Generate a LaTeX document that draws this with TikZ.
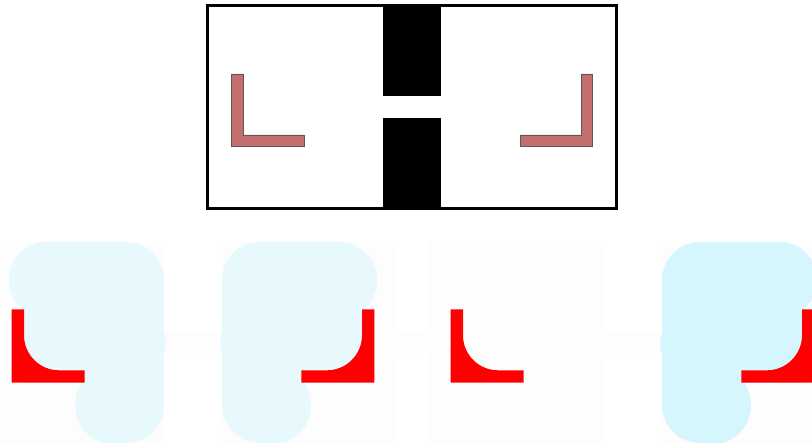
\documentclass[tikz,border=0pt]{standalone}
\definecolor{wallred}{RGB}{196,110,110}
\definecolor{blobcyan}{RGB}{232,249,254}
\definecolor{blobcyandark}{RGB}{214,246,254}
\definecolor{panelgray}{RGB}{253,253,253}
\newcommand{\cornerblob}[1]{%
  \fill[#1] (46.7,280) circle[radius=38];
  \fill[#1] (126,280) circle[radius=38];
  \fill[#1] (128,343) circle[radius=37.7];
  \fill[#1] (115,405) circle[radius=40];
  \fill[#1] (126,405) circle[radius=38];
  \fill[#1] (46.7,241.7) rectangle (126,318);
  \fill[#1] (24,280) rectangle (164,383);
  \fill[#1] (115,300) rectangle (164,405);
  \fill[#1] (115,405) rectangle (126,443);
}
\newcommand{\cornerhit}{%
  \fill[red] (11.7,309.3) -- (24,309.3) -- (24,335.3)
    .. controls (24,354.6) and (39.7,370.3) .. (59,370.3)
    -- (84.7,370.3) -- (84.7,382.7) -- (11.7,382.7) -- cycle;
}
\begin{document}
\begin{tikzpicture}[x=1pt,y=-1pt,
  cornerL/.style={fill=wallred, draw=black!65, line width=0.6pt},
  faint/.style={fill=panelgray}]
\useasboundingbox (0,0) rectangle (812,443);
% room seen from above
\draw[line width=3pt] (207.5,5.5) rectangle (616.5,208.5);
\fill (383.3,5.5) rectangle (441.3,96.3);
\fill (383.3,118.3) rectangle (441.3,208.5);
\draw[cornerL] (231.7,74) -- (243.3,74) -- (243.3,135) -- (304.3,135) -- (304.3,146.7) -- (231.7,146.7) -- cycle;
\draw[cornerL] (592.7,74) -- (581,74) -- (581,135) -- (520.7,135) -- (520.7,146.7) -- (592.7,146.7) -- cycle;
% panels below
\fill[faint] (0,331.7) rectangle (812,354);
\fill[faint] (0,241.7) rectangle (164,443);
\fill[faint] (222,241.7) rectangle (395,443);
\fill[faint] (428,241.7) rectangle (603,443);
\fill[faint] (662,241.7) rectangle (812,443);
\begin{scope}
  \cornerblob{blobcyan}
  \cornerhit
\end{scope}
\begin{scope}[xshift=386pt, xscale=-1]
  \cornerblob{blobcyan}
  \cornerhit
\end{scope}
\begin{scope}[xshift=439pt]
  \cornerhit
\end{scope}
\begin{scope}[xshift=826pt, xscale=-1]
  \cornerblob{blobcyandark}
  \cornerhit
\end{scope}
\end{tikzpicture}
\end{document}
